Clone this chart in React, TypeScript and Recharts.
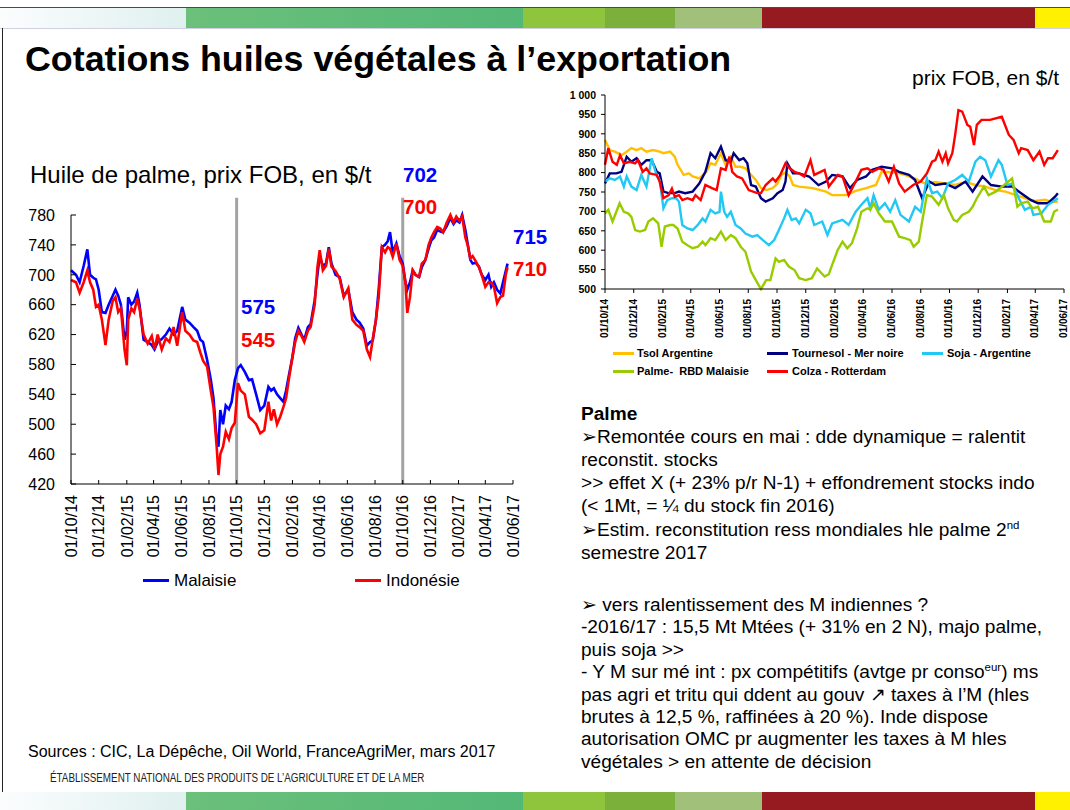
import React from "react";
import { Line, LineChart, ReferenceLine, XAxis, YAxis } from "recharts";

const FONT = '"Liberation Sans", Arial, Helvetica, sans-serif';

// ---- shared axis data ----
const dateTicks = [
  "01/10/14", "01/12/14", "01/02/15", "01/04/15", "01/06/15", "01/08/15",
  "01/10/15", "01/12/15", "01/02/16", "01/04/16", "01/06/16", "01/08/16",
  "01/10/16", "01/12/16", "01/02/17", "01/04/17", "01/06/17",
];
const palmYTicks = [420, 460, 500, 540, 580, 620, 660, 700, 740, 780];
const fobYTicks = [500, 550, 600, 650, 700, 750, 800, 850, 900, 950, 1000];
const markerDates = ["2015-10-01", "2016-10-01"];

// ---- left chart: huile de palme, FOB $/t ----
const palmDates = [
  "2014-10-01", "2014-10-12", "2014-10-20", "2014-10-29", "2014-11-06", "2014-11-12", "2014-11-19", "2014-11-25",
  "2014-12-01", "2014-12-08", "2014-12-16", "2014-12-23", "2015-01-01", "2015-01-07", "2015-01-13", "2015-01-19",
  "2015-01-27", "2015-02-01", "2015-02-04", "2015-02-11", "2015-02-17", "2015-02-24", "2015-03-01", "2015-03-10",
  "2015-03-19", "2015-03-28", "2015-04-03", "2015-04-10", "2015-04-19", "2015-04-28", "2015-05-06", "2015-05-15",
  "2015-05-23", "2015-06-03", "2015-06-10", "2015-06-19", "2015-06-28", "2015-07-06", "2015-07-13", "2015-07-19",
  "2015-07-28", "2015-08-05", "2015-08-11", "2015-08-18", "2015-08-22", "2015-08-26", "2015-09-01", "2015-09-07",
  "2015-09-14", "2015-09-20", "2015-09-27", "2015-10-04", "2015-10-10", "2015-10-19", "2015-10-28", "2015-11-04",
  "2015-11-13", "2015-11-22", "2015-12-01", "2015-12-10", "2015-12-16", "2015-12-22", "2015-12-29", "2016-01-05",
  "2016-01-12", "2016-01-18", "2016-01-24", "2016-02-01", "2016-02-07", "2016-02-14", "2016-02-21", "2016-02-27",
  "2016-03-06", "2016-03-12", "2016-03-21", "2016-03-27", "2016-04-01", "2016-04-08", "2016-04-15", "2016-04-21",
  "2016-04-27", "2016-05-06", "2016-05-15", "2016-05-24", "2016-06-03", "2016-06-12", "2016-06-21", "2016-06-28",
  "2016-07-06", "2016-07-14", "2016-07-21", "2016-07-27", "2016-08-03", "2016-08-09", "2016-08-16", "2016-08-23",
  "2016-08-29", "2016-09-03", "2016-09-09", "2016-09-17", "2016-09-24", "2016-10-01", "2016-10-07", "2016-10-11",
  "2016-10-17", "2016-10-23", "2016-10-29", "2016-11-06", "2016-11-12", "2016-11-20", "2016-11-27", "2016-12-03",
  "2016-12-09", "2016-12-16", "2016-12-23", "2016-12-29", "2017-01-06", "2017-01-14", "2017-01-21", "2017-01-27",
  "2017-02-03", "2017-02-09", "2017-02-16", "2017-02-21", "2017-02-27", "2017-03-04", "2017-03-11", "2017-03-18",
  "2017-03-24", "2017-04-01", "2017-04-08", "2017-04-14", "2017-04-20", "2017-04-27", "2017-05-04", "2017-05-10",
  "2017-05-16", "2017-05-20",
];
const malaisie = [
  706, 700, 690, 712, 734, 700, 696, 694, 680, 650, 649, 660, 672, 680, 672, 660,
  613, 625, 670, 660, 664, 676, 660, 613, 610, 606, 600, 610, 614, 620, 628, 620,
  625, 657, 640, 636, 630, 625, 613, 610, 586, 560, 535, 479, 470, 519, 500, 525,
  520, 530, 559, 575, 579, 570, 559, 560, 540, 519, 525, 550, 545, 548, 540, 535,
  530, 545, 565, 590, 615, 629, 620, 613, 630, 634, 666, 700, 725, 712, 715, 737,
  715, 700, 697, 672, 680, 650, 640, 636, 628, 605, 610, 612, 640, 680, 737, 740,
  745, 757, 730, 742, 725, 715, 690, 680, 690, 706, 700, 697, 710, 720, 735, 746,
  750, 760, 758, 757, 765, 776, 768, 773, 770, 780, 760, 742, 720, 715, 716, 711,
  700, 693, 700, 684, 690, 680, 675, 690, 705, 715,
];
const indonesie = [
  693, 690, 676, 690, 706, 690, 680, 657, 660, 640, 606, 640, 665, 670, 650, 655,
  600, 579, 640, 655, 650, 668, 655, 620, 608, 618, 600, 620, 600, 615, 610, 630,
  605, 650, 625, 620, 612, 610, 596, 585, 577, 545, 523, 470, 432, 460, 470, 490,
  480, 495, 502, 555, 545, 540, 510, 506, 500, 488, 492, 530, 505, 520, 500, 510,
  523, 535, 560, 590, 610, 625, 618, 610, 625, 630, 660, 710, 733, 706, 712, 735,
  711, 705, 695, 670, 682, 640, 633, 630, 625, 600, 590, 614, 640, 670, 737, 730,
  737, 735, 724, 742, 720, 712, 690, 649, 670, 706, 700, 697, 715, 720, 740, 750,
  757, 764, 762, 757, 770, 780, 770, 778, 772, 778, 750, 740, 722, 725, 718, 710,
  700, 684, 690, 690, 684, 662, 670, 672, 700, 710,
];
const palmLabels = [
  { text: "575", color: "#0000ff", x: 241, y: 307 },
  { text: "545", color: "#ff0000", x: 241, y: 340 },
  { text: "702", color: "#0000ff", x: 403, y: 175 },
  { text: "700", color: "#ff0000", x: 403, y: 207 },
  { text: "715", color: "#0000ff", x: 513, y: 237 },
  { text: "710", color: "#ff0000", x: 513, y: 269 },
];

// ---- right chart: prix FOB, en $/t ----
type Row = [string, number];
const tsolArgentine: Row[] = [
  ["2014-10-01", 884], ["2014-10-11", 858], ["2014-10-22", 854], ["2014-11-05", 845], ["2014-11-16", 854],
  ["2014-11-26", 863], ["2014-12-07", 858], ["2014-12-17", 863], ["2014-12-28", 854], ["2015-01-11", 858],
  ["2015-01-25", 854], ["2015-02-02", 850], ["2015-02-16", 854], ["2015-02-26", 841], ["2015-03-04", 820],
  ["2015-03-17", 794], ["2015-03-28", 798], ["2015-04-05", 790], ["2015-04-19", 785], ["2015-05-04", 802],
  ["2015-05-13", 824], ["2015-05-23", 820], ["2015-06-04", 850], ["2015-06-14", 820], ["2015-06-25", 841],
  ["2015-07-05", 815], ["2015-07-16", 815], ["2015-07-26", 811], ["2015-08-07", 794], ["2015-08-17", 781],
  ["2015-08-28", 760], ["2015-09-08", 755], ["2015-09-22", 760], ["2015-10-02", 772], ["2015-10-10", 794],
  ["2015-10-19", 800], ["2015-10-28", 790], ["2015-11-04", 768], ["2015-11-17", 764], ["2015-12-16", 760],
  ["2016-01-13", 751], ["2016-01-26", 742], ["2016-02-25", 742], ["2016-03-16", 753], ["2016-04-07", 760],
  ["2016-04-28", 768], ["2016-05-10", 802], ["2016-06-01", 801], ["2016-06-16", 798], ["2016-06-28", 794],
  ["2016-07-19", 785], ["2016-08-10", 772], ["2016-09-01", 776], ["2016-09-22", 772], ["2016-10-13", 768],
  ["2016-11-04", 776], ["2016-11-25", 768], ["2016-12-16", 764], ["2017-01-07", 755], ["2017-01-28", 751],
  ["2017-02-19", 742], ["2017-03-10", 734], ["2017-04-01", 727], ["2017-04-22", 730], ["2017-05-04", 725],
  ["2017-05-19", 725],
];
const tournesolMerNoire: Row[] = [
  ["2014-10-01", 772], ["2014-10-11", 798], ["2014-10-25", 798], ["2014-11-05", 802], ["2014-11-16", 841],
  ["2014-11-26", 828], ["2014-12-07", 837], ["2014-12-17", 820], ["2014-12-28", 832], ["2015-01-08", 832],
  ["2015-01-19", 802], ["2015-01-25", 798], ["2015-02-02", 751], ["2015-02-13", 747], ["2015-02-26", 747],
  ["2015-03-07", 751], ["2015-03-20", 747], ["2015-04-05", 751], ["2015-04-19", 772], ["2015-05-02", 802],
  ["2015-05-13", 850], ["2015-05-23", 837], ["2015-06-04", 867], ["2015-06-14", 832], ["2015-06-25", 828],
  ["2015-07-01", 850], ["2015-07-13", 832], ["2015-07-22", 837], ["2015-07-30", 824], ["2015-08-07", 768],
  ["2015-08-17", 764], ["2015-08-28", 734], ["2015-09-07", 725], ["2015-09-22", 734], ["2015-10-02", 747],
  ["2015-10-13", 755], ["2015-10-19", 777], ["2015-10-23", 824], ["2015-11-04", 798], ["2015-11-17", 798],
  ["2015-12-08", 790], ["2015-12-28", 768], ["2016-01-13", 777], ["2016-01-26", 794], ["2016-02-17", 790],
  ["2016-03-04", 760], ["2016-03-19", 781], ["2016-04-07", 790], ["2016-04-20", 807], ["2016-05-10", 815],
  ["2016-06-01", 811], ["2016-06-16", 802], ["2016-07-07", 794], ["2016-07-20", 781], ["2016-08-04", 734],
  ["2016-08-19", 777], ["2016-09-01", 768], ["2016-09-22", 772], ["2016-10-13", 760], ["2016-11-04", 777],
  ["2016-11-19", 751], ["2016-12-10", 790], ["2016-12-28", 768], ["2017-01-20", 764], ["2017-02-11", 764],
  ["2017-03-02", 747], ["2017-03-23", 729], ["2017-04-07", 721], ["2017-04-28", 721], ["2017-05-13", 738],
  ["2017-05-19", 747],
];
const sojaArgentine: Row[] = [
  ["2014-10-01", 777], ["2014-10-11", 785], ["2014-10-22", 781], ["2014-11-02", 790], ["2014-11-10", 764],
  ["2014-11-16", 790], ["2014-11-26", 764], ["2014-12-07", 755], ["2014-12-17", 794], ["2014-12-28", 764],
  ["2015-01-08", 837], ["2015-01-19", 790], ["2015-01-25", 781], ["2015-02-02", 708], ["2015-02-10", 729],
  ["2015-02-20", 734], ["2015-03-01", 734], ["2015-03-07", 725], ["2015-03-14", 665], ["2015-03-25", 656],
  ["2015-04-05", 652], ["2015-04-16", 665], ["2015-04-26", 682], ["2015-05-02", 674], ["2015-05-13", 704],
  ["2015-05-23", 695], ["2015-06-01", 699], ["2015-06-04", 751], ["2015-06-11", 699], ["2015-06-17", 686],
  ["2015-06-25", 699], ["2015-07-05", 665], ["2015-07-16", 656], ["2015-07-26", 643], ["2015-08-10", 635],
  ["2015-08-20", 639], ["2015-09-01", 626], ["2015-09-14", 613], ["2015-09-25", 626], ["2015-10-05", 652],
  ["2015-10-16", 682], ["2015-10-23", 704], ["2015-11-01", 678], ["2015-11-10", 682], ["2015-11-17", 669],
  ["2015-12-01", 704], ["2015-12-11", 695], ["2015-12-19", 665], ["2016-01-05", 674], ["2016-01-16", 639],
  ["2016-01-26", 669], ["2016-02-17", 678], ["2016-03-01", 665], ["2016-03-16", 699], ["2016-03-28", 717],
  ["2016-04-10", 734], ["2016-04-16", 708], ["2016-04-23", 742], ["2016-05-04", 704], ["2016-05-17", 721],
  ["2016-05-28", 699], ["2016-06-08", 729], ["2016-06-19", 691], ["2016-07-07", 674], ["2016-07-20", 712],
  ["2016-08-01", 699], ["2016-08-14", 785], ["2016-08-25", 747], ["2016-09-05", 751], ["2016-09-16", 734],
  ["2016-09-28", 772], ["2016-10-13", 781], ["2016-10-28", 794], ["2016-11-11", 777], ["2016-11-25", 828],
  ["2016-12-05", 841], ["2016-12-16", 832], ["2016-12-28", 790], ["2017-01-13", 832], ["2017-01-20", 820],
  ["2017-02-01", 768], ["2017-02-11", 772], ["2017-02-25", 734], ["2017-03-10", 704], ["2017-03-23", 712],
  ["2017-03-28", 691], ["2017-04-14", 695], ["2017-04-28", 717], ["2017-05-13", 729], ["2017-05-19", 734],
];
const palmeRbdMalaisie: Row[] = [
  ["2014-10-01", 695], ["2014-10-08", 704], ["2014-10-17", 674], ["2014-11-01", 721], ["2014-11-10", 699],
  ["2014-11-19", 695], ["2014-11-26", 686], ["2014-12-04", 652], ["2014-12-14", 648], ["2014-12-25", 652],
  ["2015-01-01", 674], ["2015-01-11", 682], ["2015-01-22", 669], ["2015-01-29", 609], ["2015-02-05", 661],
  ["2015-02-16", 665], ["2015-02-23", 665], ["2015-03-04", 656], ["2015-03-14", 622], ["2015-03-25", 613],
  ["2015-04-05", 605], ["2015-04-16", 609], ["2015-04-26", 622], ["2015-05-02", 613], ["2015-05-13", 631],
  ["2015-05-23", 626], ["2015-06-04", 648], ["2015-06-14", 626], ["2015-06-25", 639], ["2015-07-05", 631],
  ["2015-07-16", 609], ["2015-07-26", 596], ["2015-08-07", 545], ["2015-08-17", 523], ["2015-08-28", 500],
  ["2015-09-08", 523], ["2015-09-17", 523], ["2015-09-28", 579], ["2015-10-05", 570], ["2015-10-16", 575],
  ["2015-10-26", 558], ["2015-11-07", 549], ["2015-11-17", 528], ["2015-12-01", 523], ["2015-12-14", 528],
  ["2015-12-25", 553], ["2016-01-10", 532], ["2016-01-19", 538], ["2016-01-26", 562], ["2016-02-07", 601],
  ["2016-02-17", 622], ["2016-02-27", 605], ["2016-03-08", 618], ["2016-03-19", 656], ["2016-03-28", 699],
  ["2016-04-10", 708], ["2016-04-16", 704], ["2016-04-23", 721], ["2016-05-04", 695], ["2016-05-17", 674],
  ["2016-06-01", 674], ["2016-06-16", 635], ["2016-06-28", 631], ["2016-07-10", 626], ["2016-07-17", 609],
  ["2016-07-28", 622], ["2016-08-04", 674], ["2016-08-14", 742], ["2016-08-25", 738], ["2016-09-08", 717],
  ["2016-09-19", 742], ["2016-09-28", 708], ["2016-10-10", 678], ["2016-10-17", 674], ["2016-10-28", 691],
  ["2016-11-11", 699], ["2016-11-19", 712], ["2016-11-28", 734], ["2016-12-13", 764], ["2016-12-23", 742],
  ["2017-01-07", 751], ["2017-01-25", 768], ["2017-02-11", 785], ["2017-02-22", 712], ["2017-03-02", 721],
  ["2017-03-16", 725], ["2017-03-26", 708], ["2017-04-07", 712], ["2017-04-20", 674], ["2017-05-04", 674],
  ["2017-05-11", 699], ["2017-05-19", 705],
];
const colzaRotterdam: Row[] = [
  ["2014-10-01", 820], ["2014-10-08", 863], ["2014-10-17", 828], ["2014-10-26", 820], ["2014-11-02", 845],
  ["2014-11-10", 824], ["2014-11-23", 828], ["2014-12-04", 824], ["2014-12-10", 832], ["2014-12-20", 802],
  ["2014-12-28", 811], ["2015-01-04", 798], ["2015-01-19", 794], ["2015-01-25", 777], ["2015-02-02", 734],
  ["2015-02-13", 742], ["2015-02-20", 759], ["2015-02-26", 738], ["2015-03-07", 742], ["2015-03-14", 729],
  ["2015-03-25", 734], ["2015-04-05", 729], ["2015-04-11", 742], ["2015-04-22", 729], ["2015-05-02", 768],
  ["2015-05-16", 760], ["2015-05-26", 755], ["2015-06-04", 811], ["2015-06-14", 807], ["2015-06-22", 841],
  ["2015-06-28", 802], ["2015-07-08", 790], ["2015-07-19", 785], ["2015-08-02", 755], ["2015-08-20", 747],
  ["2015-08-28", 747], ["2015-09-07", 768], ["2015-09-22", 785], ["2015-09-28", 777], ["2015-10-08", 794],
  ["2015-10-19", 824], ["2015-10-28", 811], ["2015-11-07", 802], ["2015-11-17", 798], ["2015-11-28", 790],
  ["2015-12-11", 832], ["2015-12-19", 794], ["2016-01-10", 807], ["2016-01-19", 764], ["2016-02-07", 794],
  ["2016-02-17", 790], ["2016-03-01", 742], ["2016-03-16", 777], ["2016-03-28", 807], ["2016-04-10", 811],
  ["2016-04-20", 802], ["2016-05-04", 811], ["2016-05-14", 807], ["2016-05-25", 777], ["2016-06-05", 815],
  ["2016-06-16", 772], ["2016-06-28", 751], ["2016-07-16", 768], ["2016-08-01", 777], ["2016-08-14", 798],
  ["2016-08-25", 828], ["2016-09-01", 832], ["2016-09-08", 854], ["2016-09-16", 828], ["2016-09-23", 850],
  ["2016-09-28", 824], ["2016-10-07", 850], ["2016-10-13", 897], ["2016-10-20", 961], ["2016-10-28", 957],
  ["2016-11-08", 923], ["2016-11-14", 918], ["2016-11-22", 871], ["2016-11-28", 923], ["2016-12-08", 936],
  ["2016-12-26", 936], ["2017-01-20", 944], ["2017-02-04", 897], ["2017-02-14", 884], ["2017-02-25", 850],
  ["2017-03-02", 863], ["2017-03-16", 858], ["2017-03-28", 832], ["2017-04-10", 854], ["2017-04-20", 820],
  ["2017-04-28", 837], ["2017-05-08", 837], ["2017-05-19", 858],
];

const fobSeries = [
  { name: "Tsol Argentine", color: "#ffc000", rows: tsolArgentine },
  { name: "Tournesol - Mer noire", color: "#000080", rows: tournesolMerNoire },
  { name: "Soja - Argentine", color: "#22c8f4", rows: sojaArgentine },
  { name: "Palme-  RBD Malaisie", color: "#99cc00", rows: palmeRbdMalaisie },
  { name: "Colza - Rotterdam", color: "#ff0000", rows: colzaRotterdam },
];

// ---- helpers ----
const ts = (iso: string) => {
  const [y, m, d] = iso.split("-").map(Number);
  return Date.UTC(y, m - 1, d);
};
const tickTs = (label: string) => {
  const [d, m, y] = label.split("/").map(Number);
  return Date.UTC(2000 + y, m - 1, d);
};
const pad = (n: number) => String(n).padStart(2, "0");
const fmtDate = (t: number) => {
  const d = new Date(t);
  return `${pad(d.getUTCDate())}/${pad(d.getUTCMonth() + 1)}/${pad(d.getUTCFullYear() % 100)}`;
};
const fmtThousands = (v: number) => String(v).replace(/\B(?=(\d{3})+$)/g, " ");

const xTicks = dateTicks.map(tickTs);
const xDomain: [number, number] = [xTicks[0], xTicks[xTicks.length - 1]];
const palmData = palmDates.map((d, i) => ({ t: ts(d), malaisie: malaisie[i], indonesie: indonesie[i] }));

// ---- tick renderers ----
function PalmYTick({ x, y, payload }: any) {
  return (
    <g>
      <line x1={x} x2={x + 5} y1={y} y2={y} stroke="#000" />
      <text x={x - 16} y={y} dy="0.36em" textAnchor="end" fontSize={16} fill="#000" fontFamily={FONT}>
        {payload.value}
      </text>
    </g>
  );
}

function PalmXTick({ x, y, payload }: any) {
  return (
    <g>
      <line x1={x} x2={x} y1={y} y2={y - 4} stroke="#000" />
      <text
        x={x}
        y={y}
        transform={`rotate(-90 ${x} ${y})`}
        dx={-11}
        dy="0.36em"
        textAnchor="end"
        fontSize={16}
        fill="#000"
        fontFamily={FONT}
      >
        {fmtDate(payload.value)}
      </text>
    </g>
  );
}

function FobYTick({ x, y, payload }: any) {
  return (
    <text x={x - 5} y={y} dy="0.36em" textAnchor="end" fontSize={10.5} fontWeight="bold" fill="#000" fontFamily={FONT}>
      {fmtThousands(payload.value)}
    </text>
  );
}

function FobXTick({ x, y, payload }: any) {
  return (
    <text
      x={x}
      y={y}
      transform={`rotate(-90 ${x} ${y})`}
      dx={-6}
      dy="0.3em"
      textAnchor="end"
      fontSize={10}
      fontWeight="bold"
      fill="#000"
      fontFamily={FONT}
    >
      {fmtDate(payload.value)}
    </text>
  );
}

// ---- decorative bands ----
const bandSegments = [
  { from: 0, to: 186, bg: "linear-gradient(90deg, #fbfdfd, #dff0ef)" },
  { from: 186, to: 523, bg: "linear-gradient(90deg, #6bc07a, #54b877)" },
  { from: 523, to: 605, bg: "#8fc53d" },
  { from: 605, to: 675, bg: "#7bb13a" },
  { from: 675, to: 762, bg: "#a1c07a" },
  { from: 762, to: 1035, bg: "#961b20" },
  { from: 1035, to: 1070, bg: "#fff100" },
];

function Band({ top, height }: { top: number; height: number }) {
  return (
    <>
      {bandSegments.map((s) => (
        <div
          key={s.from}
          style={{ position: "absolute", left: s.from, top, width: s.to - s.from, height, background: s.bg }}
        />
      ))}
    </>
  );
}

const abs = (left: number, top: number, extra: React.CSSProperties = {}): React.CSSProperties => ({
  position: "absolute",
  left,
  top,
  whiteSpace: "nowrap",
  ...extra,
});

const supStyle: React.CSSProperties = { fontSize: "0.6em", lineHeight: 0 };

export default function App() {
  return (
    <div
      style={{
        position: "absolute",
        left: 0,
        top: 0,
        width: 1070,
        height: 810,
        overflow: "hidden",
        background: "#fff",
        fontFamily: FONT,
        color: "#000",
      }}
    >
      <Band top={8} height={20} />
      <div style={{ position: "absolute", left: 0, top: 7, width: 1070, height: 1, background: "#4a4a4a" }} />
      <div style={{ position: "absolute", left: 0, top: 28, width: 1070, height: 1, background: "#cfd0e4" }} />
      <div style={{ position: "absolute", left: 2, top: 28, width: 1, height: 782, background: "#222" }} />
      <Band top={792} height={18} />

      <div style={abs(25, 42, { fontSize: 35.8, fontWeight: "bold", lineHeight: 1 })}>
        Cotations huiles végétales à l’exportation
      </div>
      <div style={abs(912, 67, { fontSize: 21, lineHeight: 1 })}>prix FOB, en $/t</div>
      <div style={abs(30, 163, { fontSize: 24, lineHeight: 1 })}>Huile de palme, prix FOB, en $/t</div>

      {/* left chart */}
      <div style={{ position: "absolute", left: 0, top: 0 }}>
        <LineChart
          width={560}
          height={600}
          data={palmData}
          margin={{ top: 215, right: 47, left: 21, bottom: 36 }}
        >
          <XAxis
            dataKey="t"
            type="number"
            domain={xDomain}
            ticks={xTicks}
            interval={0}
            height={80}
            tickSize={0}
            tickMargin={0}
            axisLine={{ stroke: "#000" }}
            tickLine={false}
            tick={<PalmXTick />}
          />
          <YAxis
            type="number"
            domain={[420, 780]}
            ticks={palmYTicks}
            interval={0}
            width={50}
            tickSize={0}
            tickMargin={0}
            axisLine={{ stroke: "#000" }}
            tickLine={false}
            tick={<PalmYTick />}
          />
          {markerDates.map((d) => (
            <ReferenceLine
              key={d}
              ifOverflow="visible"
              segment={[
                { x: ts(d), y: 420 },
                { x: ts(d), y: 803 },
              ]}
              stroke="#a3a3a3"
              strokeWidth={3}
            />
          ))}
          <Line
            dataKey="malaisie"
            name="Malaisie"
            type="linear"
            stroke="#0000ff"
            strokeWidth={2.6}
            dot={false}
            isAnimationActive={false}
          />
          <Line
            dataKey="indonesie"
            name="Indonésie"
            type="linear"
            stroke="#ff0000"
            strokeWidth={2.6}
            dot={false}
            isAnimationActive={false}
          />
        </LineChart>
      </div>

      {palmLabels.map((l) => (
        <div
          key={l.text + l.x}
          style={abs(l.x, l.y, {
            fontSize: 20.5,
            fontWeight: "bold",
            lineHeight: 1,
            color: l.color,
            transform: "translateY(-50%)",
          })}
        >
          {l.text}
        </div>
      ))}

      {/* left legend */}
      <div style={{ position: "absolute", left: 143, top: 579, width: 26, height: 3, background: "#0000ff" }} />
      <div style={abs(174, 580, { fontSize: 17, lineHeight: 1, transform: "translateY(-50%)" })}>Malaisie</div>
      <div style={{ position: "absolute", left: 355, top: 579, width: 26, height: 3, background: "#ff0000" }} />
      <div style={abs(386, 580, { fontSize: 17, lineHeight: 1, transform: "translateY(-50%)" })}>Indonésie</div>

      {/* right chart */}
      <div style={{ position: "absolute", left: 555, top: 80 }}>
        <LineChart
          width={515}
          height={280}
          margin={{ top: 15, right: 6, left: 10, bottom: 11 }}
          style={{ overflow: "visible" }}
        >
          <XAxis
            dataKey="t"
            type="number"
            domain={xDomain}
            ticks={xTicks}
            interval={0}
            height={60}
            tickSize={4}
            tickMargin={0}
            axisLine={{ stroke: "#000" }}
            tickLine={{ stroke: "#000" }}
            tick={<FobXTick />}
          />
          <YAxis
            type="number"
            domain={[500, 1000]}
            ticks={fobYTicks}
            interval={0}
            width={40}
            tickSize={4}
            tickMargin={0}
            axisLine={{ stroke: "#000" }}
            tickLine={{ stroke: "#000" }}
            tick={<FobYTick />}
          />
          {fobSeries.map((s) => (
            <Line
              key={s.name}
              name={s.name}
              data={s.rows.map(([d, v]) => ({ t: ts(d), v }))}
              dataKey="v"
              type="linear"
              stroke={s.color}
              strokeWidth={2.4}
              dot={false}
              isAnimationActive={false}
            />
          ))}
        </LineChart>
      </div>

      {/* right legend */}
      {[
        { s: fobSeries[0], lx: 613, tx: 637, y: 353 },
        { s: fobSeries[1], lx: 767, tx: 792, y: 353 },
        { s: fobSeries[2], lx: 922, tx: 947, y: 353 },
        { s: fobSeries[3], lx: 613, tx: 637, y: 371 },
        { s: fobSeries[4], lx: 767, tx: 792, y: 371 },
      ].map(({ s, lx, tx, y }) => (
        <React.Fragment key={s.name}>
          <div style={{ position: "absolute", left: lx, top: y - 1, width: 21, height: 3, background: s.color }} />
          <div
            style={abs(tx, y, {
              fontSize: 11,
              fontWeight: "bold",
              lineHeight: 1,
              transform: "translateY(-50%)",
              whiteSpace: "pre",
            })}
          >
            {s.name}
          </div>
        </React.Fragment>
      ))}

      {/* comment text */}
      <div style={abs(581, 401.5, { fontSize: 19.1, lineHeight: "23.2px" })}>
        <div style={{ fontWeight: "bold" }}>Palme</div>
        <div>➢Remontée cours en mai : dde dynamique = ralentit</div>
        <div>reconstit. stocks</div>
        <div>&gt;&gt; effet X (+ 23% p/r N-1) + effondrement stocks indo</div>
        <div>(&lt; 1Mt, = ¼ du stock fin 2016)</div>
        <div>
          ➢Estim. reconstitution ress mondiales hle palme 2<sup style={supStyle}>nd</sup>
        </div>
        <div>semestre 2017</div>
      </div>
      <div style={abs(581, 594, { fontSize: 19.1, lineHeight: "22.4px" })}>
        <div>➢ vers ralentissement des M indiennes ?</div>
        <div>-2016/17 : 15,5 Mt Mtées (+ 31% en 2 N), majo palme,</div>
        <div>puis soja &gt;&gt;</div>
        <div>
          - Y M sur mé int : px compétitifs (avtge pr conso<sup style={supStyle}>eur</sup>) ms
        </div>
        <div>pas agri et tritu qui ddent au gouv ↗ taxes à l’M (hles</div>
        <div>brutes à 12,5 %, raffinées à 20 %). Inde dispose</div>
        <div>autorisation OMC pr augmenter les taxes à M hles</div>
        <div>végétales &gt; en attente de décision</div>
      </div>

      <div style={abs(28, 752, { fontSize: 16, lineHeight: 1, transform: "translateY(-50%)" })}>
        Sources : CIC, La Dépêche, Oil World, FranceAgriMer, mars 2017
      </div>
      <div
        style={abs(50, 778, {
          fontSize: 12,
          lineHeight: 1,
          transform: "translateY(-50%) scaleX(0.82)",
          transformOrigin: "left center",
          color: "#222",
        })}
      >
        ÉTABLISSEMENT NATIONAL DES PRODUITS DE L’AGRICULTURE ET DE LA MER
      </div>
    </div>
  );
}
